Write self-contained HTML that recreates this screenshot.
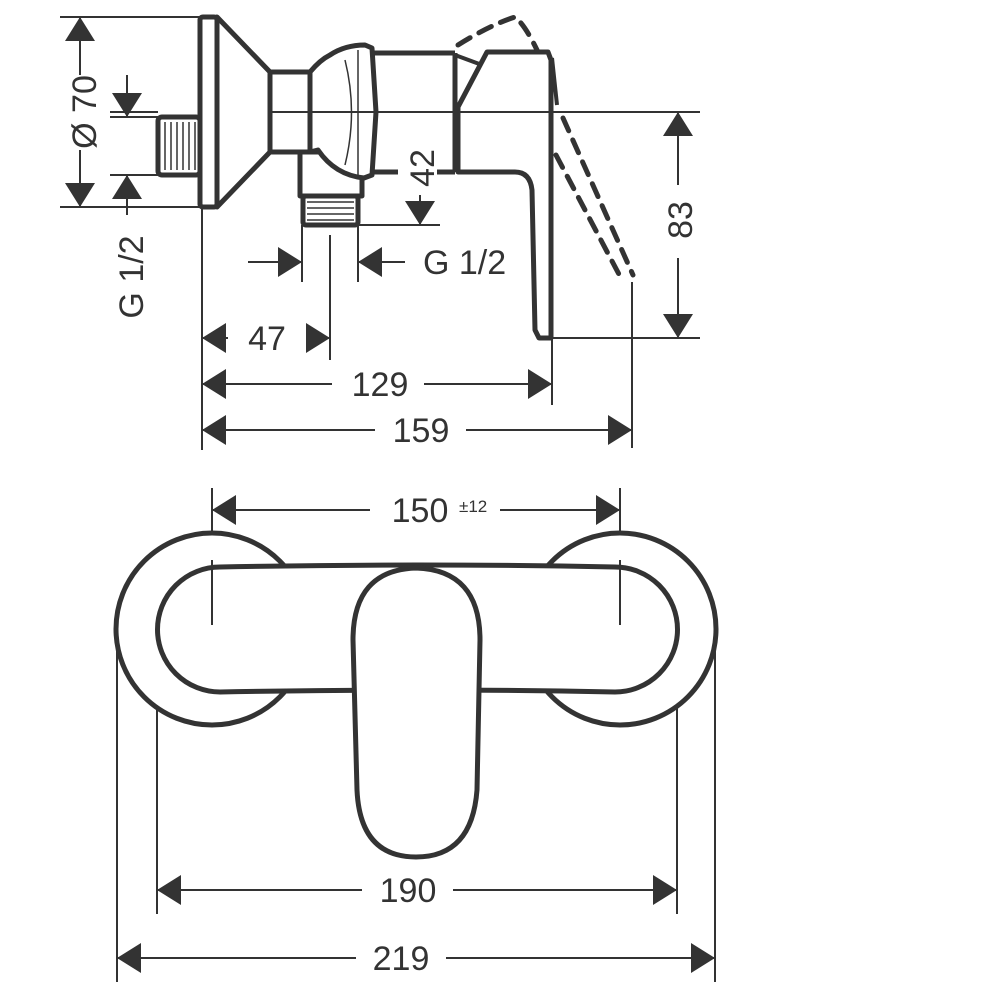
<!DOCTYPE html>
<html><head><meta charset="utf-8"><style>
html,body{margin:0;padding:0;background:#fff;}
svg{display:block;}
text{font-family:"Liberation Sans",sans-serif;fill:#333;font-size:34px;}
</style></head><body>
<svg width="1000" height="1000" viewBox="0 0 1000 1000" xmlns="http://www.w3.org/2000/svg">
<defs>
<marker id="a" viewBox="0 0 24 30" refX="24" refY="15" markerWidth="24" markerHeight="30" markerUnits="userSpaceOnUse" orient="auto-start-reverse"><path d="M0 0L24 15L0 30Z" fill="#333"/></marker>
</defs>
<g stroke="#333" fill="none" stroke-width="2">
<line x1="60" y1="17" x2="200" y2="17"/>
<line x1="60" y1="207" x2="200" y2="207"/>
<line x1="110" y1="117" x2="158" y2="117"/>
<line x1="110" y1="175" x2="158" y2="175"/>
<line x1="357" y1="225" x2="440" y2="225"/>
<line x1="550" y1="338" x2="700" y2="338"/>
<line x1="202" y1="207" x2="202" y2="450"/>
<line x1="330" y1="235" x2="330" y2="360"/>
<line x1="302" y1="225" x2="302" y2="282"/>
<line x1="358" y1="225" x2="358" y2="282"/>
<line x1="552" y1="338" x2="552" y2="405"/>
<line x1="632" y1="282" x2="632" y2="448"/>
<line x1="80" y1="75" x2="80" y2="17" marker-end="url(#a)"/>
<line x1="80" y1="150" x2="80" y2="207" marker-end="url(#a)"/>
<line x1="127" y1="75" x2="127" y2="117" marker-end="url(#a)"/>
<line x1="127" y1="215" x2="127" y2="175" marker-end="url(#a)"/>
<line x1="420" y1="145" x2="420" y2="112" marker-end="url(#a)"/>
<line x1="420" y1="195" x2="420" y2="225" marker-end="url(#a)"/>
<line x1="678" y1="185" x2="678" y2="112" marker-end="url(#a)"/>
<line x1="678" y1="258" x2="678" y2="338" marker-end="url(#a)"/>
<line x1="248" y1="262" x2="302" y2="262" marker-end="url(#a)"/>
<line x1="405" y1="262" x2="358" y2="262" marker-end="url(#a)"/>
<line x1="228" y1="338" x2="202" y2="338" marker-end="url(#a)"/>
<line x1="306" y1="338" x2="330" y2="338" marker-end="url(#a)"/>
<line x1="332" y1="384" x2="202" y2="384" marker-end="url(#a)"/>
<line x1="424" y1="384" x2="552" y2="384" marker-end="url(#a)"/>
<line x1="375" y1="430" x2="202" y2="430" marker-end="url(#a)"/>
<line x1="466" y1="430" x2="632" y2="430" marker-end="url(#a)"/>
<line x1="212" y1="488" x2="212" y2="625"/>
<line x1="620" y1="488" x2="620" y2="625"/>
<line x1="157" y1="665" x2="157" y2="914"/>
<line x1="677" y1="665" x2="677" y2="914"/>
<line x1="117" y1="640" x2="117" y2="982"/>
<line x1="715" y1="640" x2="715" y2="982"/>
<line x1="370" y1="510" x2="212" y2="510" marker-end="url(#a)"/>
<line x1="500" y1="510" x2="620" y2="510" marker-end="url(#a)"/>
<line x1="362" y1="890" x2="157" y2="890" marker-end="url(#a)"/>
<line x1="453" y1="890" x2="677" y2="890" marker-end="url(#a)"/>
<line x1="356" y1="958" x2="117" y2="958" marker-end="url(#a)"/>
<line x1="446" y1="958" x2="715" y2="958" marker-end="url(#a)"/>
</g>
<g stroke="#333" fill="#fff" stroke-width="5" stroke-linejoin="round">
<rect x="158" y="117" width="42" height="58" rx="4"/>
<path d="M217 17L270 72L270 152L217 207Z"/>
<rect x="200" y="17" width="17" height="190" rx="3"/>
<rect x="270" y="72" width="40" height="80"/>
<rect x="300" y="152" width="62" height="44"/>
<rect x="303" y="196" width="55" height="29" rx="3"/>
<path d="M372 53L455 53L455 172L372 172Z" fill="#fff" stroke="none"/>
<path d="M372 53L455 53M372 172L398 172M437 172L455 172M455 53L455 172"/>
<path d="M310 72Q320 60 330 55Q345 45 365 45L372 48L376 112L372 175L364 178Q335 175 318 150L310 152Z"/>
<path d="M458 107L487 52L548 52L551 60L551 338L539 338L535 330L532 190Q530 172 515 172L458 172Z"/>
<line x1="455" y1="55" x2="482" y2="65" stroke-width="4"/>
</g>
<g stroke="#333" fill="none" stroke-width="1.5">
<path d="M165 122v48M171 122v48M177 122v48M183 122v48M189 122v48M195 122v48"/>
<path d="M307 202h47M307 208h47M307 214h47M307 220h47"/>
<path d="M345 60Q358 112 345 165"/>
<path d="M358 50V175"/>
</g>
<g stroke="#333" stroke-width="2">
<line x1="110" y1="112" x2="158" y2="112"/>
<line x1="270" y1="112" x2="700" y2="112"/>
</g>
<g stroke="#333" fill="none" stroke-width="5" stroke-dasharray="14 10" stroke-linecap="round">
<path d="M458 45Q490 25 515 17Q525 25 537 50"/>
<path d="M563 118L633 275"/>
<path d="M556 155L622 280"/>
</g>
<path d="M552 58L557 105" stroke="#333" stroke-width="4" fill="none"/>
<g stroke="#333" fill="#fff" stroke-width="5">
<circle cx="212" cy="629" r="96"/>
<circle cx="620" cy="629" r="96"/>
<path d="M220 567Q417 563 615 567A62 62 0 0 1 615 692Q417 688 220 692A62 62 0 0 1 220 567Z"/>
<path d="M416 568Q480 570 480 640L477 790Q472 857 416 857Q360 857 357 790L353 640Q353 570 416 568Z"/>
</g>
<g stroke="#333" stroke-width="2">
<line x1="212" y1="560" x2="212" y2="625"/>
<line x1="620" y1="560" x2="620" y2="625"/>
</g>
<text transform="translate(96,112) rotate(-90)" text-anchor="middle">Ø 70</text>
<text transform="translate(143,277) rotate(-90)" text-anchor="middle">G 1/2</text>
<text transform="translate(434,168) rotate(-90)" text-anchor="middle">42</text>
<text transform="translate(692,220) rotate(-90)" text-anchor="middle">83</text>
<text x="423" y="274">G 1/2</text>
<text x="267" y="350" text-anchor="middle">47</text>
<text x="380" y="396" text-anchor="middle">129</text>
<text x="421" y="442" text-anchor="middle">159</text>
<text x="420" y="522" text-anchor="middle">150</text>
<text x="459" y="512" style="font-size:17px">±12</text>
<text x="408" y="902" text-anchor="middle">190</text>
<text x="401" y="970" text-anchor="middle">219</text>
</svg>
</body></html>
